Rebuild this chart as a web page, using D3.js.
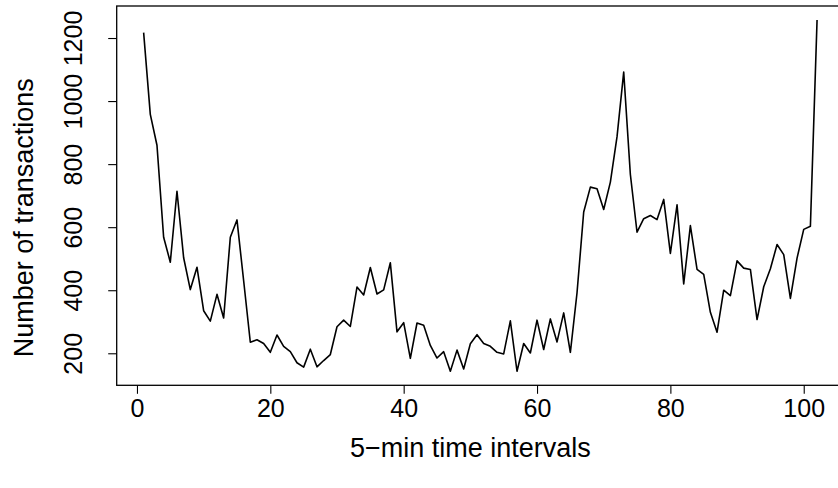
<!DOCTYPE html>
<html>
<head>
<meta charset="utf-8">
<script src="https://cdn.jsdelivr.net/npm/d3@7"></script>
<style>
  body { margin: 0; background: #fff; }
  svg { display: block; font-family: "Liberation Sans", Arial, sans-serif; }
</style>
</head>
<body>
<div id="chart"></div>
<script>
// transactions per 5-min interval
const intervals = d3.range(1, 103);
const transactions = [
  1217, 958, 860, 568, 489, 714, 503, 402, 473, 335,
  302, 387, 312, 568, 623, 430, 235, 243, 231, 203,
  258, 222, 205, 170, 156, 213, 157, 177, 196, 284,
  305, 285, 410, 385, 472, 388, 401, 487, 268, 297,
  184, 296, 289, 225, 185, 205, 143, 210, 150, 230,
  259, 231, 222, 203, 198, 303, 143, 231, 201, 305,
  212, 309, 236, 328, 203, 392, 648, 727, 722, 656,
  743, 887, 1092, 767, 584, 627, 637, 624, 688, 517,
  671, 420, 605, 466, 450, 330, 267, 400, 383, 493,
  470, 466, 307, 411, 468, 545, 513, 374, 502, 593,
  603, 1257
];
const xTicks = [0, 20, 40, 60, 80, 100];
const yTicks = [200, 400, 600, 800, 1000, 1200];
const xLabel = "5\u2212min time intervals";
const yLabel = "Number of transactions";

const width = 838, height = 488;
const margin = {top: 6, right: -6, bottom: 102.7, left: 116.7};
const tickFont = 25, titleFont = 27;

// R style axis padding: 4% each side
function pad(ext) {
  const r = ext[1] - ext[0];
  return [ext[0] - 0.04 * r, ext[1] + 0.04 * r];
}

const svg = d3.select("#chart").append("svg")
    .attr("width", width)
    .attr("height", height);

const x = d3.scaleLinear()
    .domain(pad(d3.extent(intervals)))
    .range([margin.left, width - margin.right]);

const y = d3.scaleLinear()
    .domain(pad(d3.extent(transactions)))
    .range([height - margin.bottom, margin.top]);

const line = d3.line()
    .x((d, i) => x(intervals[i]))
    .y(d => y(d));

svg.append("path")
    .datum(transactions)
    .attr("fill", "none")
    .attr("stroke", "#000")
    .attr("stroke-width", 1.6)
    .attr("stroke-linejoin", "round")
    .attr("d", line);

// box
svg.append("rect")
    .attr("x", margin.left)
    .attr("y", margin.top)
    .attr("width", width - margin.right - margin.left)
    .attr("height", height - margin.bottom - margin.top)
    .attr("fill", "none")
    .attr("stroke", "#000")
    .attr("stroke-width", 1.3);

// bottom axis
const xAxis = svg.append("g")
    .attr("transform", `translate(0,${height - margin.bottom})`)
    .call(d3.axisBottom(x).tickValues(xTicks).tickSize(8.5).tickFormat(d3.format("d")));
xAxis.select(".domain").remove();
xAxis.selectAll("line").attr("stroke", "#000").attr("stroke-width", 1.1);
xAxis.selectAll("text")
    .attr("fill", "#000")
    .attr("y", 32).attr("dy", null)
    .style("font-size", tickFont + "px");

// left axis, labels parallel to axis
const yAxis = svg.append("g")
    .attr("transform", `translate(${margin.left},0)`)
    .call(d3.axisLeft(y).tickValues(yTicks).tickSize(8.5).tickFormat(d3.format("d")));
yAxis.select(".domain").remove();
yAxis.selectAll("line").attr("stroke", "#000").attr("stroke-width", 1.1);
yAxis.selectAll("text")
    .attr("fill", "#000")
    .attr("x", null).attr("dy", null)
    .attr("text-anchor", "middle")
    .attr("transform", "translate(-34.5,0) rotate(-90)")
    .style("font-size", tickFont + "px");

svg.append("text")
    .attr("x", x(50))
    .attr("y", 457)
    .attr("text-anchor", "middle")
    .style("font-size", titleFont + "px")
    .text(xLabel);

svg.append("text")
    .attr("transform", `translate(33,${y(630)}) rotate(-90)`)
    .attr("text-anchor", "middle")
    .style("font-size", titleFont + "px")
    .text(yLabel);
</script>
</body>
</html>
